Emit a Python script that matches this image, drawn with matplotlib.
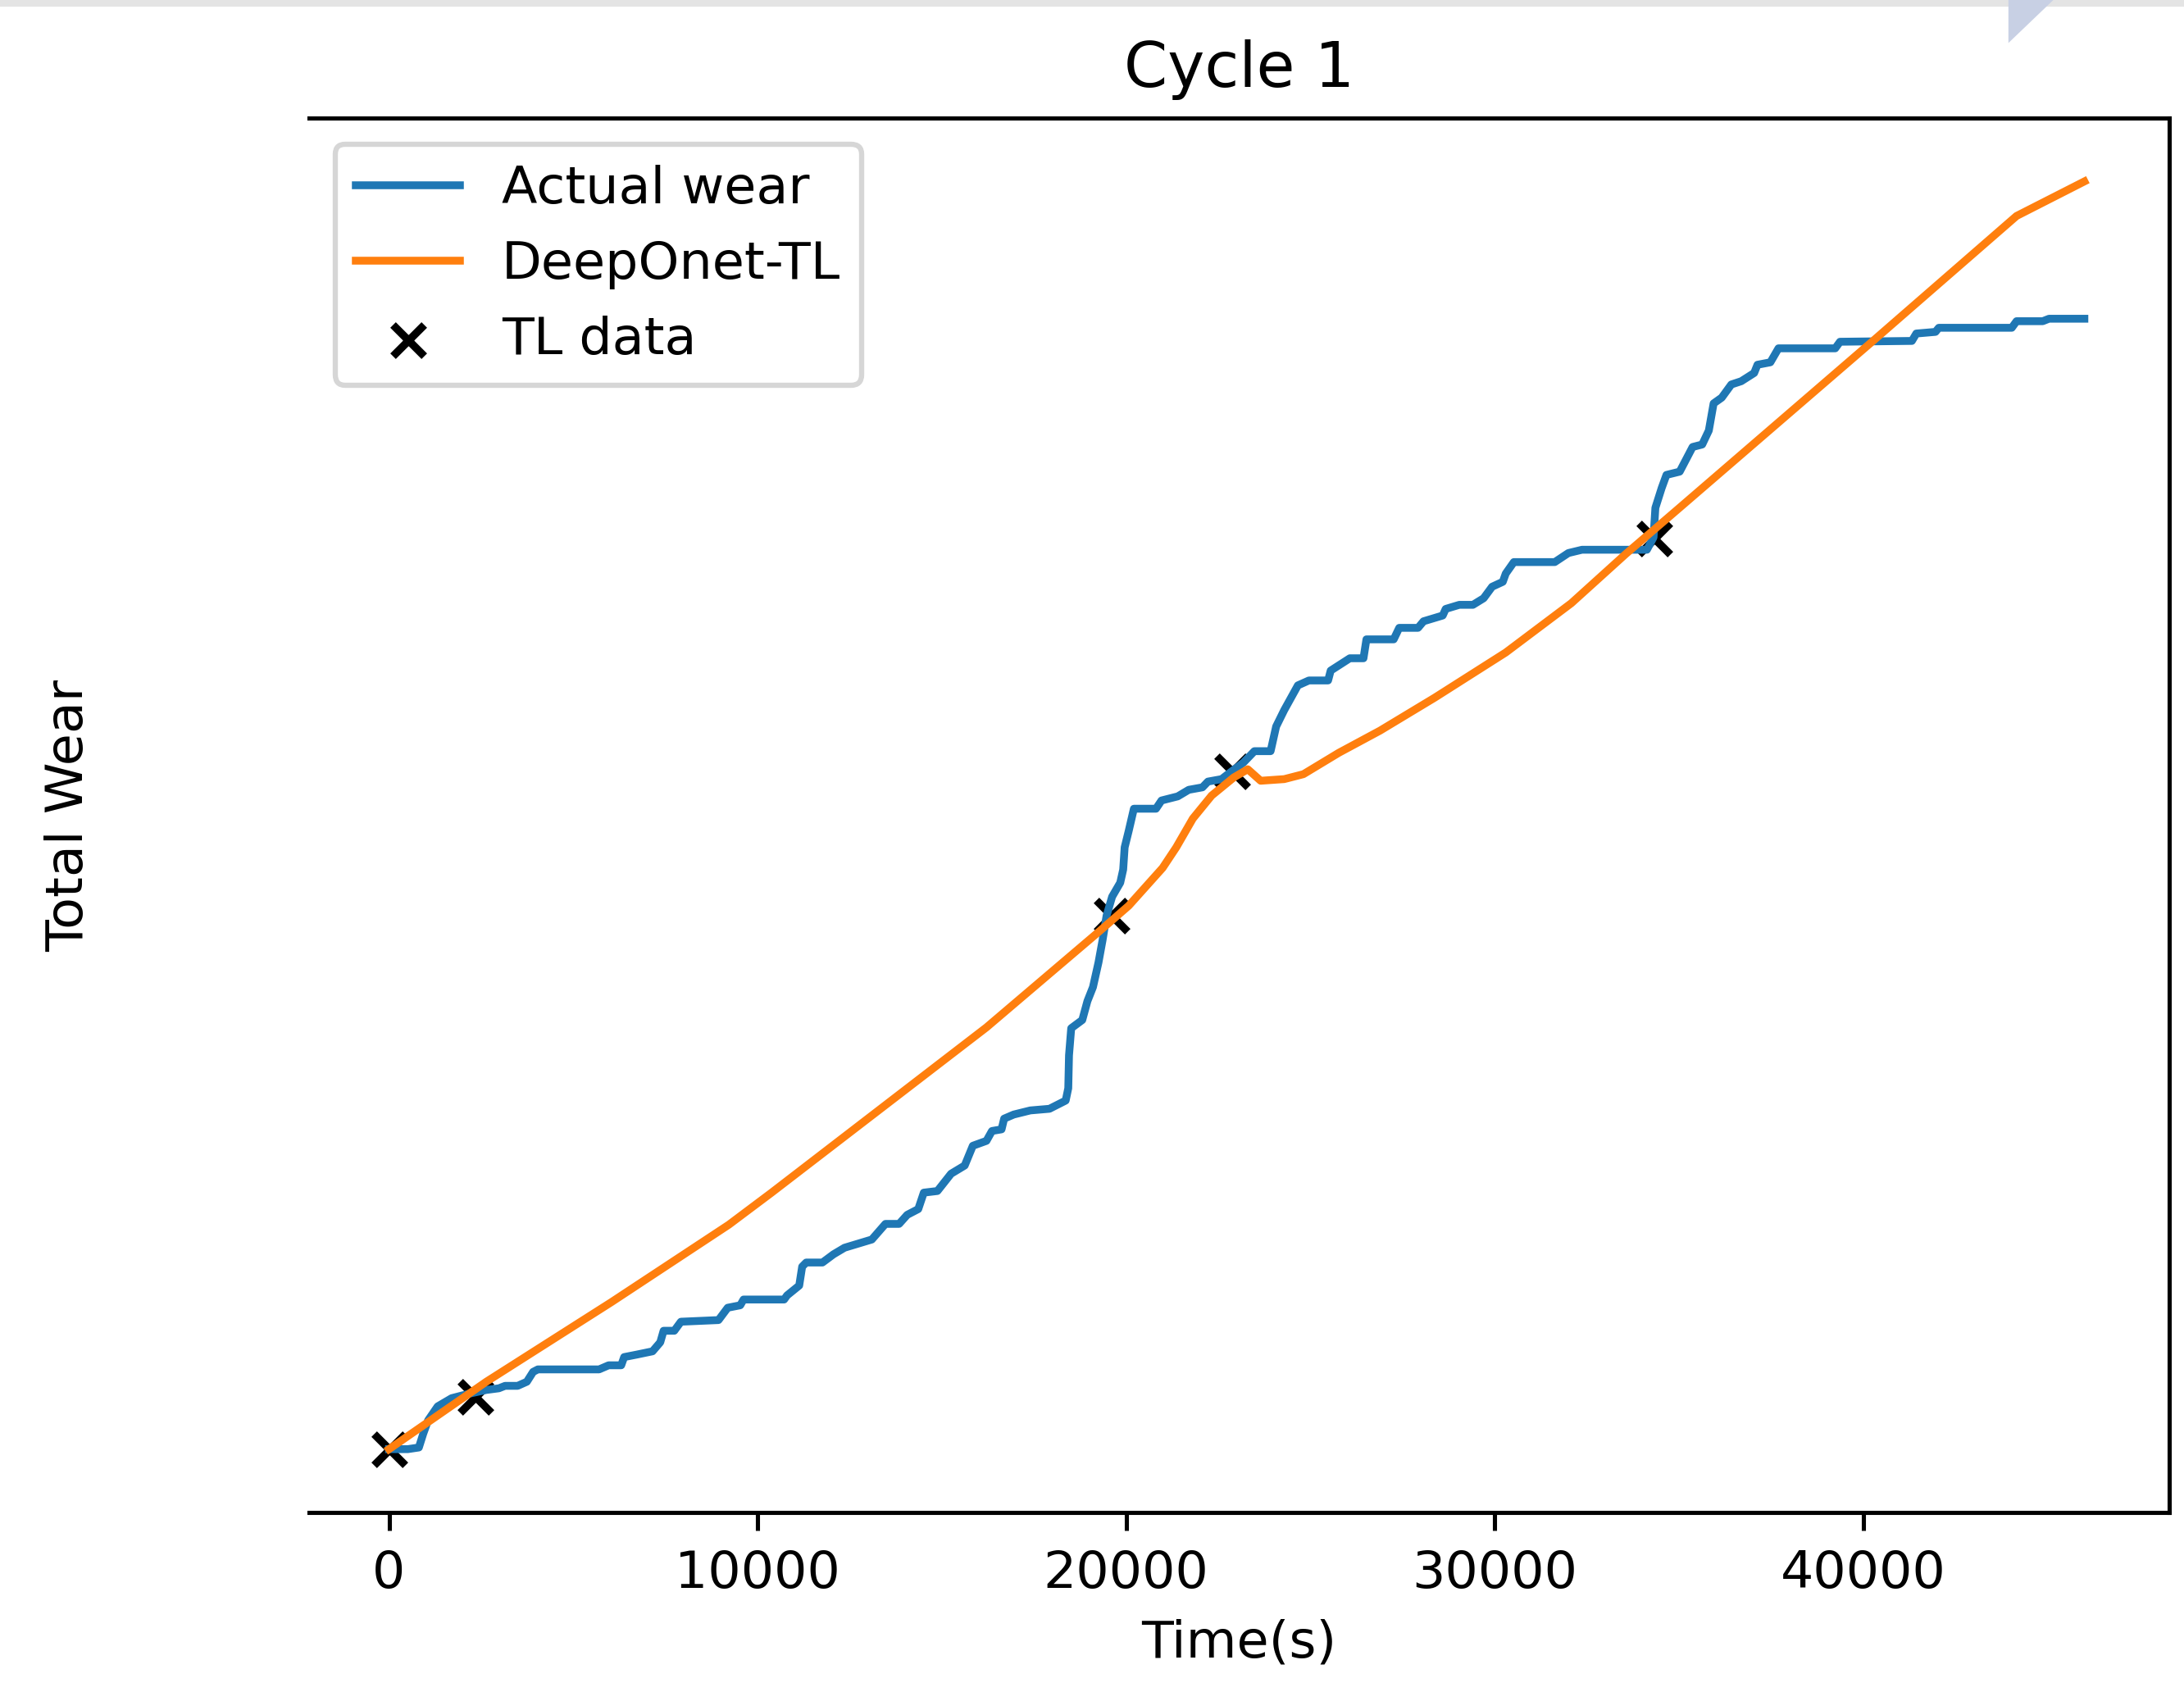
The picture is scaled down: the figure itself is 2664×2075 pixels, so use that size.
import matplotlib.pyplot as plt
from matplotlib.patches import Rectangle, Polygon

# measured wear (step-like), time in seconds
time_actual = [0, 510, 810, 930, 1060, 1320, 1700, 2130, 2640, 2980, 3150, 3490,
               3740, 3910, 4040, 5700, 5960, 6300, 6380, 6720, 7150, 7360, 7450,
               7740, 7920, 8940, 9190, 9530, 9620, 10720, 10800, 11130, 11210,
               11320, 11760, 12060, 12360, 12730, 13100, 13470, 13840, 14060,
               14360, 14510, 14880, 15250, 15620, 15840, 16210, 16360, 16620,
               16690, 16950, 17400, 17920, 18360, 18430, 18450, 18510, 18810,
               18950, 19100, 19250, 19360, 19470, 19620, 19840, 19920, 19960,
               20070, 20210, 20810, 20960, 21400, 21700, 22070, 22220, 22590,
               22880, 23180, 23480, 23920, 24070, 24290, 24660, 24960, 25480,
               25550, 26070, 26440, 26520, 27260, 27410, 27920, 28070, 28590,
               28670, 29040, 29410, 29700, 29930, 30220, 30300, 30520, 31630,
               32000, 32370, 34130, 34310, 34360, 34530, 34660, 35020, 35370,
               35630, 35810, 35940, 36160, 36420, 36690, 37040, 37130, 37480,
               37700, 39240, 39370, 41320, 41440, 41960, 42050, 44030, 44160,
               44870, 45040, 46000]
wear_actual = [0.0, 0.0, 0.2, 1.9, 3.5, 5.2, 6.2, 6.7, 7.2, 7.4, 7.7, 7.7,
               8.2, 9.4, 9.7, 9.7, 10.2, 10.2, 11.2, 11.5, 11.9, 13.0, 14.4,
               14.4, 15.5, 15.7, 17.2, 17.5, 18.2, 18.2, 18.7, 19.9, 22.2,
               22.7, 22.7, 23.7, 24.5, 25.0, 25.5, 27.4, 27.4, 28.5,
               29.2, 31.2, 31.4, 33.5, 34.5, 36.9, 37.5, 38.7, 38.9,
               40.2, 40.7, 41.2, 41.4, 42.4, 43.9, 47.9, 51.2, 52.2,
               54.5, 56.2, 59.2, 61.9, 64.9, 67.2, 68.9, 70.5, 73.2,
               75.2, 77.9, 77.9, 78.9, 79.4, 80.2, 80.5, 81.2, 81.5,
               82.5, 83.5, 84.9, 84.9, 87.9, 89.9, 92.9, 93.5, 93.5,
               94.7, 96.2, 96.2, 98.5, 98.5, 99.9, 99.9, 100.7, 101.4,
               102.2, 102.7, 102.7, 103.5, 104.9, 105.5, 106.5, 107.9, 107.9,
               109.0, 109.4, 109.4, 110.9, 114.5, 116.9, 118.5, 118.9, 121.9,
               122.2, 123.9, 127.2, 127.9, 129.5, 129.9, 130.9, 131.9, 132.2,
               133.9, 133.9, 134.7, 134.8, 135.7, 135.9, 136.4, 136.4, 137.2,
               137.2, 137.5, 137.5]

# DeepOnet-TL prediction
time_pred = [0, 2640, 6040, 9220, 10380, 16210, 19250, 20070, 20990, 21360,
             21810, 22320, 22920, 23300, 23650, 24290, 24810, 25770, 26890,
             28370, 30300, 32080, 33560, 35040, 40290, 44160, 46000]
wear_pred = [0.0, 8.2, 17.9, 27.3, 31.2, 51.3, 62.9, 66.1, 70.7, 73.2,
             76.7, 79.5, 81.7, 82.7, 81.3, 81.5, 82.1, 84.7, 87.4,
             91.4, 96.9, 102.9, 108.9, 114.6, 134.9, 150.0, 154.2]

# transfer-learning samples
time_tl = [0, 2340, 19610, 22880, 34330]
wear_tl = [0.0, 6.4, 64.9, 82.4, 110.8]

DPI = 457.5
fig = plt.figure(figsize=(2664 / DPI, 2075 / DPI), dpi=DPI)
ax = fig.add_axes([0.1415, 0.1108, 0.8517, 0.8198])

ax.plot(time_actual, wear_actual, label="Actual wear")
ax.plot(time_pred, wear_pred, label="DeepOnet-TL")
ax.scatter(time_tl, wear_tl, marker="x", color="black", label="TL data")

ax.set_xlim(-2170, 48300)
ax.set_title("Cycle 1")
ax.set_xlabel("Time(s)")
ax.set_ylabel("Total Wear")
ax.yaxis.set_label_coords(-0.116, 0.5)
ax.set_yticks([])
ax.spines["left"].set_visible(False)
ax.legend(loc="upper left")

# screenshot edge leftovers
fig.patches.append(Rectangle((0, 1 - 5 / 2075), 1, 5 / 2075,
                             transform=fig.transFigure, color="#e4e4e4", zorder=0))
fig.patches.append(Polygon([(2453 / 2664, 1), (2500 / 2664, 1), (2453 / 2664, 1 - 45 / 2075)],
                           closed=True, transform=fig.transFigure, color="#c8d0e4", zorder=0))

fig.savefig("out.png", dpi=DPI)
plt.close(fig)
